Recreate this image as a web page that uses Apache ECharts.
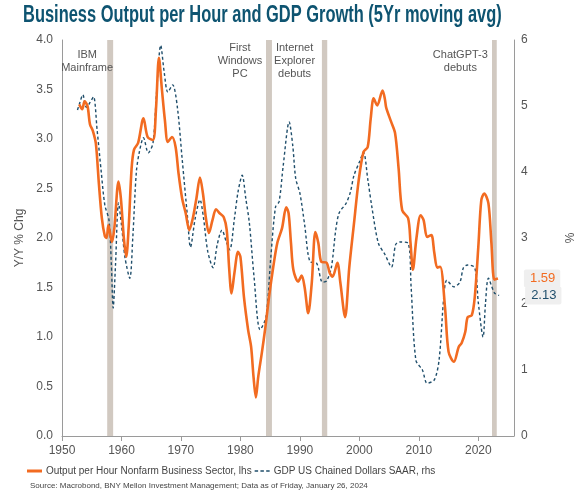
<!DOCTYPE html>
<html>
<head>
<meta charset="utf-8">
<script src="https://cdn.jsdelivr.net/npm/echarts@6/dist/echarts.min.js"></script>
<style>
  html, body {margin: 0; padding: 0; background: #fff;}
  #chart {width: 585px; height: 494px;}
</style>
</head>
<body>
<div id="chart"></div>
<script>
// output per hour, nonfarm business (lhs, Y/Y % chg, 5yr avg)
var outYears = [1952.9, 1953.4, 1953.8, 1954.3, 1954.7, 1955.2, 1955.7, 1956.2, 1956.7, 1957.2,
    1957.5, 1957.8, 1958.4, 1958.8, 1959.5, 1959.9, 1960.4, 1960.8, 1961.2, 1961.7,
    1962.1, 1962.8, 1963.7, 1964.4, 1965.3, 1965.8, 1966.3, 1966.8, 1967.3, 1967.8,
    1968.5, 1969.1, 1969.6, 1970.2, 1970.8, 1971.4, 1972.0, 1972.6, 1973.2, 1973.7,
    1974.2, 1974.7, 1975.3, 1975.9, 1976.5, 1977.2, 1977.7, 1978.1, 1978.5, 1979.0,
    1979.6, 1980.0, 1980.6, 1981.3, 1981.8, 1982.2, 1982.6, 1983.0, 1983.6, 1984.2,
    1984.8, 1985.5, 1986.2, 1987.0, 1987.7, 1988.1, 1988.5, 1988.9, 1989.7, 1990.3,
    1990.8, 1991.4, 1992.0, 1992.6, 1993.1, 1993.6, 1994.5, 1995.0, 1995.5, 1996.3,
    1996.8, 1997.6, 1998.3, 1999.1, 1999.9, 2000.7, 2001.4, 2001.9, 2002.4, 2003.0,
    2003.9, 2004.3, 2004.5, 2005.3, 2006.0, 2006.6, 2007.2, 2008.2, 2008.6, 2009.0,
    2009.6, 2010.3, 2010.8, 2011.4, 2012.1, 2012.6, 2013.1, 2013.6, 2014.4, 2015.0,
    2015.9, 2016.7, 2017.2, 2017.8, 2018.2, 2018.9, 2019.4, 2020.0, 2020.5, 2021.0,
    2021.7, 2022.2, 2022.7, 2023.3];
var outVals = [3.35, 3.30, 3.38, 3.33, 3.15, 3.08, 2.95, 2.55, 2.20, 2.02,
    2.00, 2.13, 1.96, 2.10, 2.57, 2.40, 2.00, 1.81, 2.10, 2.70,
    2.89, 2.96, 3.21, 3.02, 2.99, 3.30, 3.82, 3.50, 3.19, 2.97,
    3.02, 2.92, 2.65, 2.40, 2.25, 2.08, 2.20, 2.40, 2.61, 2.45,
    2.20, 2.05, 2.18, 2.29, 2.25, 2.21, 2.08, 1.70, 1.44, 1.65,
    1.86, 1.81, 1.40, 1.07, 0.90, 0.60, 0.39, 0.60, 0.84, 1.10,
    1.40, 1.70, 1.95, 2.10, 2.31, 2.25, 1.95, 1.68, 1.56, 1.62,
    1.50, 1.24, 1.55, 2.06, 1.95, 1.76, 1.75, 1.65, 1.61, 1.75,
    1.55, 1.20, 1.70, 2.15, 2.59, 2.87, 2.92, 3.20, 3.41, 3.34,
    3.49, 3.40, 3.32, 3.18, 3.06, 2.70, 2.28, 2.20, 1.95, 1.68,
    2.00, 2.23, 2.18, 2.01, 2.03, 1.85, 1.70, 1.71, 1.30, 0.85,
    0.75, 0.90, 0.94, 1.05, 1.20, 1.22, 1.40, 1.91, 2.38, 2.45,
    2.35, 1.95, 1.58, 1.59];

// real GDP, chained dollars SAAR (rhs, %)
var gdpYears = [1952.6, 1953.0, 1953.5, 1954.1, 1954.7, 1955.3, 1955.9, 1956.6, 1957.2, 1957.9,
    1958.3, 1958.6, 1959.0, 1959.5, 1960.0, 1960.6, 1961.4, 1961.9, 1962.5, 1963.0,
    1963.7, 1964.5, 1965.3, 1965.9, 1966.6, 1967.2, 1967.8, 1968.6, 1969.4, 1970.2,
    1971.1, 1971.6, 1972.4, 1973.2, 1973.8, 1974.5, 1975.4, 1976.1, 1976.9, 1977.6,
    1978.2, 1979.0, 1979.6, 1980.3, 1980.9, 1981.5, 1982.3, 1983.3, 1984.3, 1985.1,
    1985.9, 1986.5, 1987.2, 1988.2, 1988.8, 1989.3, 1990.0, 1990.8, 1991.7, 1992.8,
    1993.8, 1994.5, 1995.3, 1996.0, 1996.6, 1997.8, 1998.5, 1999.1, 2000.0, 2000.7,
    2001.4, 2002.1, 2003.2, 2004.3, 2005.4, 2006.1, 2006.8, 2008.2, 2008.7, 2009.5,
    2010.6, 2011.4, 2012.6, 2013.4, 2014.2, 2014.7, 2015.9, 2016.9, 2017.5, 2018.2,
    2019.4, 2020.0, 2020.8, 2021.2, 2021.7, 2022.7, 2023.5];
var gdpVals = [4.94, 5.05, 5.17, 4.98, 5.05, 5.14, 4.64, 4.00, 3.50, 3.27,
    2.60, 1.94, 2.60, 3.53, 3.20, 2.70, 2.39, 3.00, 4.00, 4.30,
    4.52, 4.29, 4.44, 5.20, 5.92, 5.50, 5.21, 5.32, 4.98, 4.20,
    3.32, 2.86, 3.30, 3.58, 3.30, 2.80, 2.55, 2.90, 3.12, 2.95,
    2.82, 3.30, 3.70, 3.95, 3.60, 3.23, 2.40, 1.61, 1.80, 2.70,
    3.47, 3.55, 4.10, 4.76, 4.40, 3.90, 3.68, 3.20, 2.64, 2.62,
    2.33, 2.35, 2.56, 3.10, 3.38, 3.53, 3.70, 3.95, 4.15, 4.30,
    3.90, 3.47, 2.92, 2.75, 2.56, 2.90, 2.94, 2.92, 2.26, 1.15,
    1.00, 0.80, 0.85, 1.15, 2.11, 2.36, 2.26, 2.33, 2.55, 2.59,
    2.55, 2.02, 1.50, 2.00, 2.39, 2.17, 2.13];

// tech events (vertical bands)
var eventNames = ['IBM\nMainframe', 'First\nWindows\nPC', 'Internet\nExplorer\ndebuts', 'ChatGPT-3\ndebuts'];
var eventStart = [1957.6, 1984.3, 1993.7, 2022.3];
var eventEnd = [1958.6, 1985.3, 1994.6, 2023.1];

var seriesNames = ['Output per Hour Nonfarm Business Sector, lhs', 'GDP US Chained Dollars SAAR, rhs'];
var titleText = 'Business Output per Hour and GDP Growth (5Yr moving avg)';

function pairs(xs, ys) {
    return xs.map(function (x, i) { return [x, ys[i]]; });
}

var labelOffsets = [[-23, 6], [-29, -1], [-30, -1], [-34, 6]];
var bands = eventNames.map(function (name, i) {
    return [{
        xAxis: eventStart[i],
        name: name,
        label: {offset: labelOffsets[i]}
    }, {xAxis: eventEnd[i]}];
});

var chart = echarts.init(document.getElementById('chart'));
var axisGray = '#9a9a9a';
var textGray = '#555';

var option = {
    backgroundColor: '#fff',
    animation: false,
    title: {
        text: 'Source: Macrobond, BNY Mellon Investment Management; Data as of Friday, January 26, 2024',
        left: 25,
        top: 477,
        textStyle: {color: '#444', fontSize: 8, fontWeight: 'normal', fontFamily: 'Liberation Sans'}
    },
    // condensed heavy title: squeeze a bold face horizontally
    graphic: [{
        type: 'text',
        left: 23,
        top: 4,
        scaleX: 0.715,
        style: {
            text: titleText,
            fill: '#0e5471',
            font: 'bold 23px "Liberation Sans", sans-serif'
        }
    }],
    legend: {
        left: 22,
        top: 461,
        itemGap: 3,
        itemWidth: 15,
        itemHeight: 3,
        textStyle: {color: '#444', fontSize: 10, fontFamily: 'Liberation Sans', padding: [0, 0, 0, -1]},
        data: [
            {name: seriesNames[0], icon: 'rect', itemStyle: {color: '#f26b21'}},
            {name: seriesNames[1], icon: 'path://M0,0h3v1.2h-3z M5,0h3v1.2h-3z M10,0h3v1.2h-3z', itemStyle: {color: '#1f4e6b'}}
        ]
    },
    grid: {left: 62, right: 62, top: 40, bottom: 58},
    xAxis: {
        type: 'value',
        min: 1950,
        max: 2026,
        interval: 10,
        axisLine: {lineStyle: {color: axisGray}},
        axisTick: {show: true, length: 5, lineStyle: {color: axisGray}},
        axisLabel: {color: textGray, fontSize: 12, fontFamily: 'Liberation Sans', margin: 9, showMaxLabel: false,
            formatter: function (v) { return String(v); }},
        splitLine: {show: false}
    },
    yAxis: [{
        type: 'value',
        min: 0,
        max: 4,
        interval: 0.5,
        name: 'Y/Y % Chg',
        nameLocation: 'middle',
        nameGap: 20,
        nameTextStyle: {color: textGray, fontSize: 12, fontFamily: 'Liberation Sans'},
        axisLine: {show: true, lineStyle: {color: axisGray}},
        axisTick: {show: false},
        axisLabel: {color: textGray, fontSize: 12, fontFamily: 'Liberation Sans', margin: 9,
            formatter: function (v) { return v.toFixed(1); }},
        splitLine: {show: false}
    }, {
        type: 'value',
        min: 0,
        max: 6,
        interval: 1,
        name: '%',
        nameLocation: 'middle',
        nameGap: 51,
        nameTextStyle: {color: textGray, fontSize: 12, fontFamily: 'Liberation Sans'},
        axisLine: {show: true, lineStyle: {color: axisGray}},
        axisTick: {show: false},
        axisLabel: {color: textGray, fontSize: 12, fontFamily: 'Liberation Sans', margin: 7},
        splitLine: {show: false}
    }],
    series: [{
        name: seriesNames[0],
        type: 'line',
        yAxisIndex: 0,
        data: pairs(outYears, outVals),
        smooth: 0.3,
        symbol: 'none',
        color: '#f26b21',
        lineStyle: {width: 2.6, color: '#f26b21'},
        z: 3,
        endLabel: {
            show: true,
            distance: 26,
            formatter: function (p) { return p.value[1].toFixed(2); },
            color: '#f26b21',
            fontSize: 13,
            fontFamily: 'Liberation Sans',
            backgroundColor: '#efefef',
            borderRadius: 2,
            padding: [3, 5, 2, 6]
        },
        markArea: {
            silent: true,
            itemStyle: {color: '#d1c9c1'},
            label: {
                show: true,
                position: 'insideTop',
                distance: 2,
                color: textGray,
                fontSize: 11,
                lineHeight: 13,
                fontFamily: 'Liberation Sans',
                align: 'center'
            },
            data: bands
        }
    }, {
        name: seriesNames[1],
        type: 'line',
        yAxisIndex: 1,
        data: pairs(gdpYears, gdpVals),
        smooth: 0.3,
        symbol: 'none',
        color: '#1f4e6b',
        lineStyle: {width: 1.4, type: [3, 2.5], color: '#1f4e6b'},
        z: 2,
        endLabel: {
            show: true,
            distance: 26,
            formatter: function (p) { return p.value[1].toFixed(2); },
            color: '#1f4e6b',
            fontSize: 13,
            fontFamily: 'Liberation Sans',
            backgroundColor: '#efefef',
            borderRadius: 2,
            padding: [3, 5, 2, 6]
        }
    }]
};

chart.setOption(option);
</script>
</body>
</html>
